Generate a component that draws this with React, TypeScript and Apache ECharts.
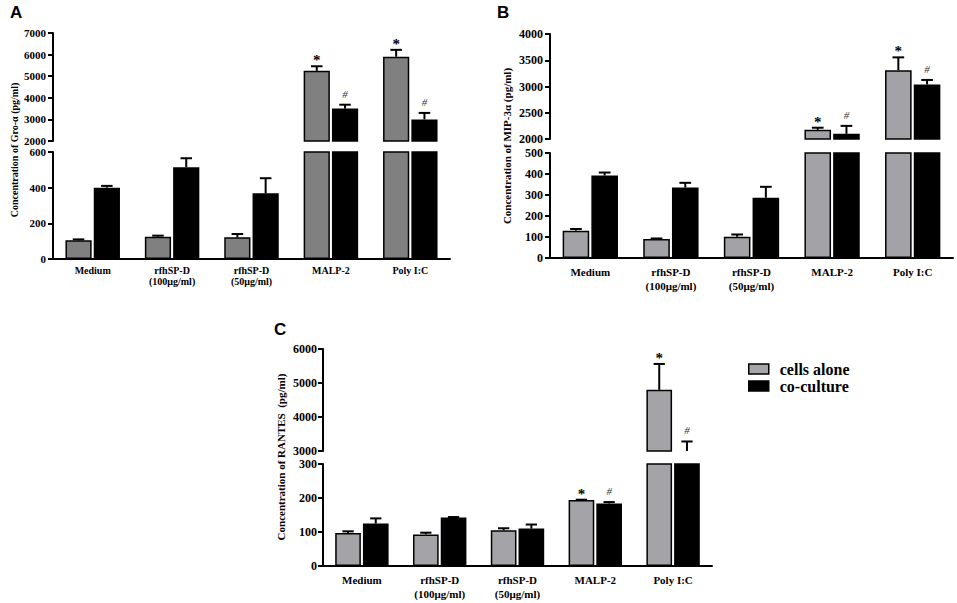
import React, { useEffect, useRef } from 'react';
import * as echarts from 'echarts';

const categories = ['Medium', 'rfhSP-D\n(100μg/ml)', 'rfhSP-D\n(50μg/ml)', 'MALP-2', 'Poly I:C'];
const seriesNames = ['cells alone', 'co-culture'];

// Panel A: Gro-α (pg/ml)
const groCells = [105, 125, 122, 5250, 5900];
const groCellsErr = [5, 6, 18, 210, 320];
const groCo = [400, 515, 368, 3500, 3000];
const groCoErr = [10, 50, 85, 180, 300];

// Panel B: MIP-3α (pg/ml)
const mipCells = [130, 90, 101, 2175, 3310];
const mipCellsErr = [8, 3, 11, 40, 245];
const mipCo = [393, 336, 287, 2100, 3040];
const mipCoErr = [14, 22, 52, 150, 85];

// Panel C: RANTES (pg/ml)
const rantesCells = [97, 93, 105, 194, 4800];
const rantesCellsErr = [5, 5, 6, 1, 760];
const rantesCo = [125, 143, 110, 184, 3000];
const rantesCoErr = [15, 1, 12, 4, 280];

// significance marks
const cellsMarks = ['', '', '', '*', '*'];
const coMarks = ['', '', '', '#', '#'];

// axis ranges [min, max, interval]
const groUpperAxis = [2000, 7000, 1000];
const groLowerAxis = [0, 600, 200];
const mipUpperAxis = [2000, 4000, 500];
const mipLowerAxis = [0, 500, 100];
const rantesUpperAxis = [3000, 6000, 1000];
const rantesLowerAxis = [0, 300, 100];

const SERIF = '"Liberation Serif", "Times New Roman", serif';
const SANS = '"Liberation Sans", Arial, sans-serif';
const BAR_W = 0.33;
const BAR_GAP = 0.08;

type Panel = {
  letter: string;
  letterPos: [number, number];
  yName: string;
  yNamePos: [number, number];
  yNameSize: number;
  cells: number[];
  cellsErr: number[];
  co: number[];
  coErr: number[];
  upper: number[];
  lower: number[];
  gUpper: { left: number; top: number; width: number; height: number };
  gLower: { left: number; top: number; width: number; height: number };
  gray: string;
  tickSize: number;
  catSize: number;
  catLine: number;
  catMargin: number;
  labelMargin: number;
};

const panels: Panel[] = [
  {
    letter: 'A', letterPos: [10, 4],
    yName: 'Concentration of Gro-α (pg/ml)', yNamePos: [14, 150], yNameSize: 10,
    cells: groCells, cellsErr: groCellsErr, co: groCo, coErr: groCoErr,
    upper: groUpperAxis, lower: groLowerAxis,
    gUpper: { left: 53, top: 33, width: 397, height: 108 },
    gLower: { left: 53, top: 152, width: 397, height: 107 },
    gray: '#808080', tickSize: 11, catSize: 10, catLine: 11, catMargin: 6, labelMargin: 7,
  },
  {
    letter: 'B', letterPos: [497, 4],
    yName: 'Concentration of MIP-3α (pg/ml)', yNamePos: [507, 146], yNameSize: 11,
    cells: mipCells, cellsErr: mipCellsErr, co: mipCo, coErr: mipCoErr,
    upper: mipUpperAxis, lower: mipLowerAxis,
    gUpper: { left: 550, top: 34, width: 403, height: 105 },
    gLower: { left: 550, top: 153, width: 403, height: 105 },
    gray: '#a3a3a7', tickSize: 12, catSize: 11, catLine: 14, catMargin: 7, labelMargin: 7,
  },
  {
    letter: 'C', letterPos: [274, 321],
    yName: 'Concentration of RANTES  (pg/ml)', yNamePos: [281, 457], yNameSize: 11,
    cells: rantesCells, cellsErr: rantesCellsErr, co: rantesCo, coErr: rantesCoErr,
    upper: rantesUpperAxis, lower: rantesLowerAxis,
    gUpper: { left: 323, top: 349, width: 389, height: 102 },
    gLower: { left: 323, top: 464, width: 389, height: 102 },
    gray: '#a4a4a8', tickSize: 12, catSize: 11, catLine: 14, catMargin: 7, labelMargin: 6,
  },
];

function buildOption() {
  const grid: any[] = [];
  const xAxis: any[] = [];
  const yAxis: any[] = [];
  const series: any[] = [];
  const graphic: any[] = [];

  panels.forEach((p) => {
    [
      { g: p.gUpper, ax: p.upper, isLower: false },
      { g: p.gLower, ax: p.lower, isLower: true },
    ].forEach(({ g, ax, isLower }) => {
      const idx = grid.length;
      grid.push({ ...g, containLabel: false });
      xAxis.push({
        type: 'category',
        gridIndex: idx,
        data: categories,
        show: isLower,
        axisLine: { show: isLower, lineStyle: { color: '#000', width: 2 } },
        axisTick: { show: false },
        axisLabel: {
          show: isLower,
          interval: 0,
          color: '#000',
          fontFamily: SERIF,
          fontWeight: 'bold',
          fontSize: p.catSize,
          lineHeight: p.catLine,
          margin: p.catMargin,
        },
      });
      yAxis.push({
        type: 'value',
        gridIndex: idx,
        min: ax[0],
        max: ax[1],
        interval: ax[2],
        splitLine: { show: false },
        axisLine: { show: true, lineStyle: { color: '#000', width: 2 } },
        axisTick: { show: true, length: 5, lineStyle: { color: '#000', width: 2 } },
        axisLabel: {
          color: '#000',
          fontFamily: SERIF,
          fontWeight: 'bold',
          fontSize: p.tickSize,
          margin: p.labelMargin,
          formatter: (v: number) => String(v),
        },
      });
      const groups = [
        { vals: p.cells, errs: p.cellsErr, marks: cellsMarks, color: p.gray, side: -1 },
        { vals: p.co, errs: p.coErr, marks: coMarks, color: '#000', side: 1 },
      ];
      groups.forEach((s, si) => {
        series.push({
          type: 'bar',
          name: seriesNames[si],
          xAxisIndex: idx,
          yAxisIndex: idx,
          data: s.vals,
          barWidth: BAR_W * 100 + '%',
          barGap: BAR_GAP * 100 + '%',
          clip: true,
          itemStyle: { color: s.color, borderColor: '#000', borderWidth: 1.5 },
          z: 2,
        });
      });
      groups.forEach((s) => {
        const min = ax[0];
        const max = ax[1];
        series.push({
          type: 'custom',
          xAxisIndex: idx,
          yAxisIndex: idx,
          z: 4,
          silent: true,
          data: s.vals.map((v, i) => [i, v, s.errs[i]]),
          renderItem: (params: any, api: any) => {
            const cat = api.value(0);
            const v = api.value(1);
            const e = api.value(2);
            if (v < min || v > max) return null;
            const band = api.size([1, 0])[0];
            const bw = band * BAR_W;
            const off = ((bw + bw * BAR_GAP) / 2) * s.side;
            const b = api.coord([cat, v]);
            const t = api.coord([cat, Math.min(v + e, max)]);
            const x = b[0] + off;
            const capHalf = bw * 0.22;
            const children: any[] = [
              {
                type: 'line',
                shape: { x1: x, y1: b[1], x2: x, y2: t[1] },
                style: { stroke: '#000', lineWidth: 2 },
              },
              {
                type: 'line',
                shape: { x1: x - capHalf, y1: t[1], x2: x + capHalf, y2: t[1] },
                style: { stroke: '#000', lineWidth: 2 },
              },
            ];
            const mark = s.marks[params.dataIndex];
            if (mark) {
              const isStar = mark === '*';
              children.push({
                type: 'text',
                x,
                y: t[1] - (isStar ? 6 : 11),
                style: {
                  text: mark,
                  fill: isStar ? '#000' : '#333',
                  fontFamily: SERIF,
                  fontWeight: isStar ? 'bold' : 'normal',
                  fontStyle: isStar ? 'normal' : 'italic',
                  fontSize: isStar ? 15 : 11,
                  align: 'center',
                  verticalAlign: 'middle',
                },
              });
            }
            return { type: 'group', children };
          },
        });
      });
    });

    graphic.push({
      type: 'text',
      left: p.letterPos[0],
      top: p.letterPos[1],
      style: { text: p.letter, fill: '#000', fontFamily: SANS, fontWeight: 'bold', fontSize: 17 },
    });
    graphic.push({
      type: 'text',
      x: p.yNamePos[0],
      y: p.yNamePos[1],
      rotation: Math.PI / 2,
      style: {
        text: p.yName,
        fill: '#000',
        fontFamily: SERIF,
        fontWeight: 'bold',
        fontSize: p.yNameSize,
        align: 'center',
        verticalAlign: 'middle',
      },
    });
  });

  return {
    animation: false,
    backgroundColor: '#fff',
    grid,
    xAxis,
    yAxis,
    series,
    graphic,
    legend: {
      orient: 'vertical',
      left: 743,
      top: 356,
      itemWidth: 20,
      itemHeight: 10,
      itemGap: 1,
      icon: 'rect',
      selectedMode: false,
      textStyle: {
        color: '#000',
        fontFamily: SERIF,
        fontWeight: 'bold',
        fontSize: 16,
        lineHeight: 16,
        padding: [0, 0, 0, 6],
      },
      data: [
        { name: seriesNames[0], itemStyle: { color: '#a6a6aa', borderColor: '#000', borderWidth: 1.5 } },
        { name: seriesNames[1], itemStyle: { color: '#000', borderColor: '#000', borderWidth: 1.5 } },
      ],
    },
  };
}

export default function App() {
  const ref = useRef<HTMLDivElement>(null);
  useEffect(() => {
    if (!ref.current) return;
    const chart = echarts.init(ref.current, undefined, { renderer: 'svg' });
    chart.setOption(buildOption() as any);
    return () => chart.dispose();
  }, []);
  return (
    <div
      ref={ref}
      style={{ position: 'fixed', left: 0, top: 0, width: 957, height: 603, background: '#fff' }}
    />
  );
}
